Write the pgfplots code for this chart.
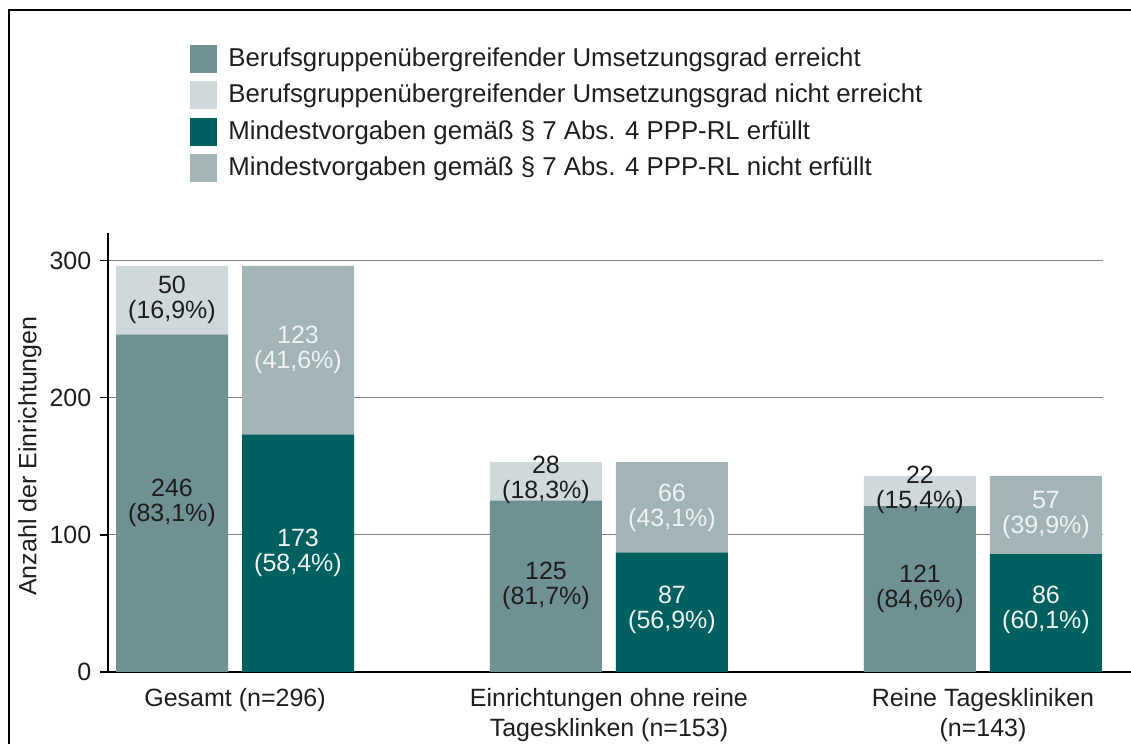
\documentclass[border=0pt]{standalone}
\usepackage{fontspec}
\setmainfont{Liberation Sans}
\usepackage{pgfplots}
\pgfplotsset{compat=1.18}
\definecolor{cA}{HTML}{6F9194}
\definecolor{cB}{HTML}{CFD8DB}
\definecolor{cC}{HTML}{00605F}
\definecolor{cD}{HTML}{A3B4B7}
\definecolor{txt}{HTML}{1E1E1E}
\definecolor{wtxt}{HTML}{EEF3F3}
\newcommand{\lbl}[5]{\node[align=center, text=#4, font=\fontsize{12.5}{12.5}\selectfont, xshift=#3] at (axis cs:#1,#2) {#5};}
\begin{document}
\fontsize{12.5}{13}\selectfont
\begin{tikzpicture}
\useasboundingbox (0,0) rectangle (565.5pt,372pt);
\begin{axis}[
  at={(54pt,36pt)}, anchor=south west,
  scale only axis, width=497.5pt, height=219.5pt,
  xmin=-0.3396, xmax=2.321, ymin=0, ymax=320,
  axis lines*=left,
  axis line style={black},
  x axis line style={line width=1pt, shorten >=-14pt},
  y axis line style={line width=0.75pt},
  xtick={0,1,2},
  xticklabels={{Gesamt (n=296)},{Einrichtungen ohne reine\\Tagesklinken (n=153)},{Reine Tageskliniken\\(n=143)}},
  xticklabel style={align=center, font=\fontsize{12.5}{15}\selectfont, text=txt},
  xtick style={draw=none},
  ytick={0,100,200,300},
  yticklabel style={text=txt},
  ytick style={black, line width=0.75pt},
  tick align=outside, major tick length=4pt,
  ymajorgrids, grid style={color=black!50, line width=0.5pt},
  ylabel={Anzahl der Einrichtungen},
  ylabel style={at={(axis description cs:-0.0784,0.492)}, anchor=center, text=txt},
  /pgf/number format/assume math mode=true,
  legend image code/.code={\fill[#1] (0pt,-7pt) rectangle (13.5pt,7pt);},
  legend cell align=left,
  legend style={draw=none, fill=none, at={(axis description cs:0.0824,1.429)}, anchor=north west, inner sep=0pt, row sep=4.2pt, column sep=5.5pt, font=\fontsize{12.9}{13}\selectfont, nodes={inner sep=0pt, text=txt}},
  bar width=56pt,
  clip=false,
]
\addplot[ybar, bar shift=-31.5pt, fill=cB, draw=none, forget plot] coordinates {(0,296) (1,153) (2,143)};
\addplot[ybar, bar shift=-31.5pt, fill=cA, draw=none, forget plot] coordinates {(0,246) (1,125) (2,121)};
\addplot[ybar, bar shift=31.5pt, fill=cD, draw=none, forget plot] coordinates {(0,296) (1,153) (2,143)};
\addplot[ybar, bar shift=31.5pt, fill=cC, draw=none, forget plot] coordinates {(0,173) (1,87) (2,86)};
\addlegendimage{fill=cA, draw=none}
\addlegendentry{Berufsgruppenübergreifender Umsetzungsgrad erreicht}
\addlegendimage{fill=cB, draw=none}
\addlegendentry{Berufsgruppenübergreifender Umsetzungsgrad nicht erreicht}
\addlegendimage{fill=cC, draw=none}
\addlegendentry{Mindestvorgaben gemäß § 7 Abs. 4 PPP-RL erfüllt}
\addlegendimage{fill=cD, draw=none}
\addlegendentry{Mindestvorgaben gemäß § 7 Abs. 4 PPP-RL nicht erfüllt}
\lbl{0}{123}{-31.5pt}{txt}{246\\(83,1\%)}
\lbl{0}{271}{-31.5pt}{txt}{50\\(16,9\%)}
\lbl{1}{62.5}{-31.5pt}{txt}{125\\(81,7\%)}
\lbl{1}{140}{-31.5pt}{txt}{28\\(18,3\%)}
\lbl{2}{60.5}{-31.5pt}{txt}{121\\(84,6\%)}
\lbl{2}{133}{-31.5pt}{txt}{22\\(15,4\%)}
\lbl{0}{86.5}{31.5pt}{wtxt}{173\\(58,4\%)}
\lbl{0}{234.5}{31.5pt}{wtxt}{123\\(41,6\%)}
\lbl{1}{45}{31.5pt}{wtxt}{87\\(56,9\%)}
\lbl{1}{120}{31.5pt}{wtxt}{66\\(43,1\%)}
\lbl{2}{45}{31.5pt}{wtxt}{86\\(60,1\%)}
\lbl{2}{114.5}{31.5pt}{wtxt}{57\\(39,9\%)}
\end{axis}
\draw[line width=1pt, black] (4.5pt,0pt) -- (4.5pt,367pt) -- (565.5pt,367pt);
\end{tikzpicture}
\end{document}
